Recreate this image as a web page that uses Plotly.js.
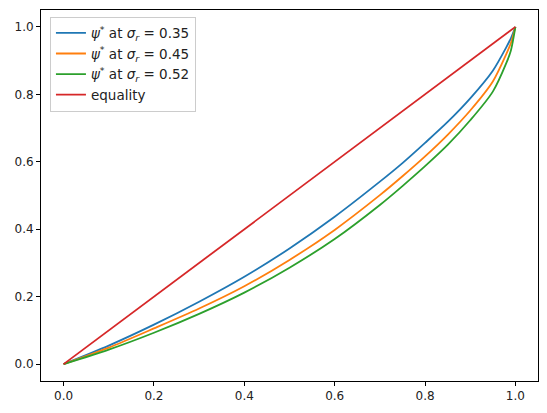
<!DOCTYPE html>
<html>
<head>
<meta charset="utf-8">
<script src="https://cdn.plot.ly/plotly-3.0.1.min.js"></script>
<style>html,body{margin:0;padding:0;background:#fff}#chart{width:547px;height:413px}</style>
</head>
<body>
<div id="chart"></div>
<script>
const popShare = [0, 0.1, 0.2, 0.3, 0.4, 0.5, 0.6, 0.7, 0.75, 0.8, 0.85, 0.9, 0.95, 0.98, 0.99, 1];
const psi035 = [0, 0.055, 0.117, 0.185, 0.259, 0.343, 0.437, 0.541, 0.596, 0.656, 0.718, 0.788, 0.870, 0.940, 0.966, 1];
const psi045 = [0, 0.049, 0.106, 0.165, 0.231, 0.309, 0.398, 0.501, 0.557, 0.616, 0.680, 0.752, 0.838, 0.920, 0.952, 1];
const psi052 = [0, 0.043, 0.093, 0.149, 0.212, 0.286, 0.371, 0.472, 0.528, 0.587, 0.650, 0.723, 0.808, 0.893, 0.930, 1];
const equalityX = [0, 1];
const equalityY = [0, 1];
const seriesNames = [
  '<i>ψ</i><sup>*</sup> at <i>σ</i><sub><i>r</i></sub> = 0.35',
  '<i>ψ</i><sup>*</sup> at <i>σ</i><sub><i>r</i></sub> = 0.45',
  '<i>ψ</i><sup>*</sup> at <i>σ</i><sub><i>r</i></sub> = 0.52',
  'equality'
];
const colors = ['#1f77b4', '#ff7f0e', '#2ca02c', '#d62728'];
const tickVals = [0, 0.2, 0.4, 0.6, 0.8, 1.0];
const tickText = ['0.0', '0.2', '0.4', '0.6', '0.8', '1.0'];

const ys = [psi035, psi045, psi052];
const traces = ys.map((y, i) => ({
  x: popShare, y: y, mode: 'lines', name: seriesNames[i],
  line: {color: colors[i], width: 1.8, shape: 'spline', smoothing: 0.8}
}));
traces.push({x: equalityX, y: equalityY, mode: 'lines', name: seriesNames[3],
  line: {color: colors[3], width: 1.8}});

const axisCommon = {
  range: [-0.05, 1.05], tickvals: tickVals, ticktext: tickText,
  showgrid: false, zeroline: false, showline: true, mirror: true,
  linecolor: '#000', linewidth: 1, ticks: 'outside', ticklen: 4, tickwidth: 1,
  tickcolor: '#000', tickfont: {family: 'DejaVu Sans', size: 12, color: '#222'},
  automargin: false
};
const layout = {
  width: 547, height: 413,
  margin: {l: 41, r: 9, t: 10, b: 32, pad: 0},
  paper_bgcolor: '#fff', plot_bgcolor: '#fff',
  font: {family: 'DejaVu Sans', size: 12, color: '#222'},
  xaxis: Object.assign({}, axisCommon),
  yaxis: Object.assign({}, axisCommon),
  showlegend: true,
  legend: {x: 0.018, y: 0.982, xanchor: 'left', yanchor: 'top',
    bgcolor: 'rgba(255,255,255,0.8)', bordercolor: '#cccccc', borderwidth: 1,
    font: {family: 'DejaVu Sans', size: 13.5, color: '#222'}, tracegroupgap: 0}
};
Plotly.newPlot('chart', traces, layout, {staticPlot: true, displayModeBar: false});
</script>
</body>
</html>
